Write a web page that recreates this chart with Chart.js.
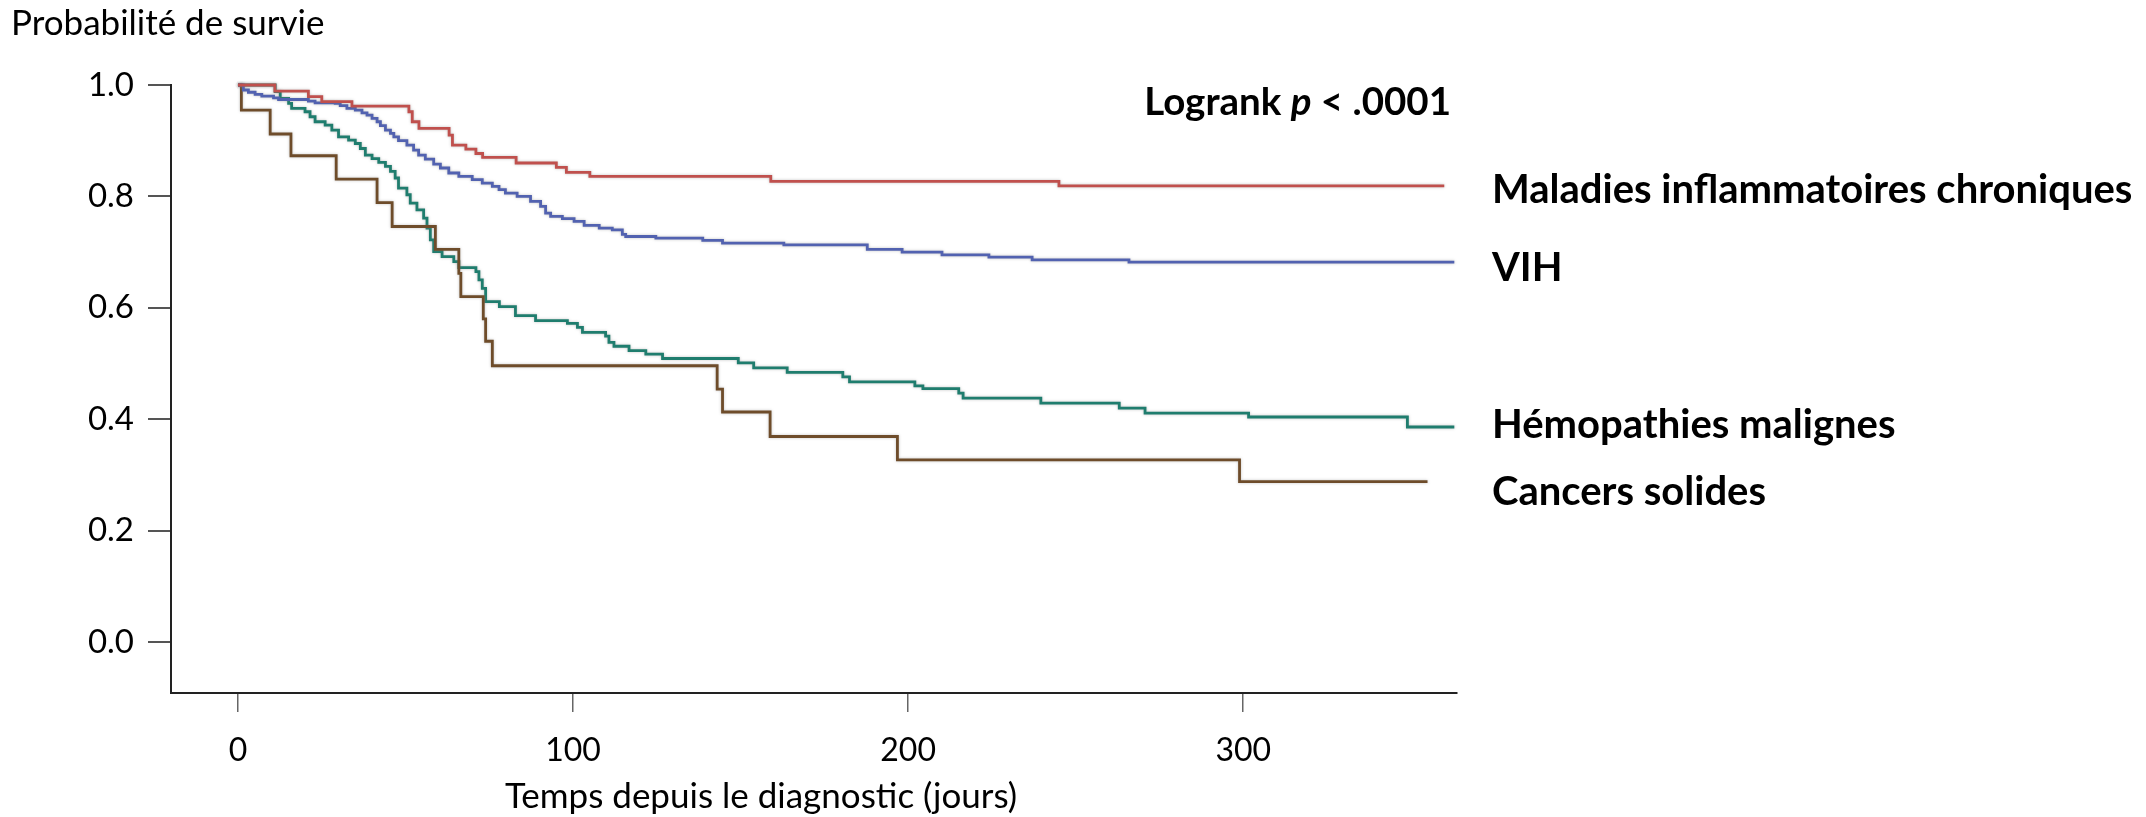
<!DOCTYPE html>
<html lang="fr">
<head>
<meta charset="utf-8">
<title>Probabilité de survie</title>
<script src="https://cdn.jsdelivr.net/npm/chart.js@4.4.1/dist/chart.umd.min.js"></script>
<style>
  html, body { margin: 0; padding: 0; background: #fff; }
  #wrap { width: 2146px; height: 817px; }
</style>
</head>
<body>
<div id="wrap"><canvas id="km" width="2146" height="817"></canvas></div>
<script>
// noms des groupes, dans l'ordre des étiquettes a droite
const groupNames = ['Maladies inflammatoires chroniques', 'VIH', 'Hémopathies malignes', 'Cancers solides'];

// Maladies inflammatoires chroniques
const micDays = [0, 11, 21, 25, 34, 51, 52, 54, 63, 64, 68, 71, 73, 83, 95, 98, 105, 159, 245, 360];
const micSurv = [1.0, 0.989, 0.979, 0.970, 0.962, 0.952, 0.934, 0.922, 0.910, 0.892, 0.885, 0.877, 0.870, 0.860, 0.852, 0.843, 0.836, 0.827, 0.819, 0.819];

// VIH
const vihDays = [0, 1.6, 3.1, 5.1, 7.1, 10.6, 12.1, 21, 23, 29, 30.5, 32.5, 35, 37, 38.5, 40, 41.5, 42.5, 44, 45.5, 46.5, 47.9, 50.4, 52.4, 53.9, 55.9, 58.4, 60.4, 62.9, 65.9, 69.9, 72.9, 75.9, 77.9, 79.8, 83.3, 87.3, 90.3, 91.8, 93.3, 96.8, 100.3, 103.3, 107.8, 111.7, 114.7, 115.7, 124.7, 138.7, 144.6, 162.9, 187.8, 198.2, 210.1, 224.1, 237, 265.9, 363];
const vihSurv = [1.0, 0.991, 0.987, 0.983, 0.980, 0.977, 0.974, 0.971, 0.968, 0.967, 0.963, 0.958, 0.955, 0.950, 0.946, 0.940, 0.934, 0.927, 0.919, 0.913, 0.907, 0.900, 0.892, 0.883, 0.874, 0.867, 0.858, 0.851, 0.842, 0.836, 0.830, 0.824, 0.818, 0.812, 0.806, 0.800, 0.791, 0.782, 0.770, 0.764, 0.760, 0.755, 0.748, 0.743, 0.740, 0.732, 0.728, 0.725, 0.721, 0.716, 0.713, 0.705, 0.700, 0.695, 0.691, 0.686, 0.682, 0.682];

// Hemopathies malignes
const hemDays = [0, 11.1, 12.6, 15.1, 16, 20, 21.5, 23, 26, 28, 30, 33, 35, 36.5, 38, 40, 42, 44, 45.5, 46.9, 47.9, 50.4, 51.4, 53.4, 55.4, 56.4, 57.4, 58.4, 60.9, 64.4, 65.9, 71, 71.9, 72.9, 73.9, 78, 82.8, 88.8, 98.3, 101.3, 102.8, 109.7, 110.7, 112.2, 116.7, 121.7, 126.7, 149.3, 153.9, 163.9, 180.5, 182.5, 202, 204.4, 215.1, 216.4, 239.6, 263, 270.7, 301.6, 349, 363];
const hemSurv = [1.0, 0.988, 0.976, 0.967, 0.958, 0.952, 0.943, 0.934, 0.928, 0.919, 0.907, 0.901, 0.895, 0.886, 0.874, 0.868, 0.861, 0.854, 0.845, 0.833, 0.815, 0.803, 0.788, 0.776, 0.761, 0.743, 0.722, 0.701, 0.692, 0.683, 0.672, 0.665, 0.650, 0.635, 0.611, 0.602, 0.586, 0.577, 0.572, 0.565, 0.556, 0.549, 0.538, 0.531, 0.523, 0.517, 0.509, 0.501, 0.492, 0.484, 0.476, 0.467, 0.460, 0.455, 0.447, 0.438, 0.429, 0.420, 0.411, 0.404, 0.386, 0.386];

// Cancers solides
const csDays = [0, 1, 9.6, 15.8, 29.3, 41.5, 46, 58.9, 65.9, 66.5, 73.2, 73.9, 75.9, 143, 144.6, 158.8, 196.8, 298.9, 355];
const csSurv = [1.0, 0.955, 0.912, 0.873, 0.831, 0.789, 0.746, 0.705, 0.662, 0.620, 0.580, 0.540, 0.496, 0.454, 0.413, 0.369, 0.327, 0.288, 0.288];

const xTicks = [0, 100, 200, 300];
const yTicks = [0.0, 0.2, 0.4, 0.6, 0.8, 1.0];

const FONT = 'Lato, "Open Sans", sans-serif';

function toPoints(days, surv) {
  return days.map((d, i) => ({ x: d, y: surv[i] }));
}

function curve(label, days, surv, color) {
  return {
    label: label,
    data: toPoints(days, surv),
    borderColor: color,
    borderWidth: 2.8,
    stepped: true,
    pointRadius: 0,
    fill: false,
    clip: false
  };
}

// léger halo autour des courbes, comme sur l'original
const haloPlugin = {
  id: 'halo',
  beforeDatasetDraw(chart, args) {
    const ctx = chart.ctx;
    ctx.save();
    ctx.shadowColor = 'rgba(120,120,120,0.45)';
    ctx.shadowBlur = 3;
  },
  afterDatasetDraw(chart) {
    chart.ctx.restore();
  }
};

const textPlugin = {
  id: 'kmText',
  afterDraw(chart) {
    const ctx = chart.ctx;
    ctx.save();
    ctx.fillStyle = '#000';
    ctx.textBaseline = 'alphabetic';

    ctx.font = '35px ' + FONT;
    ctx.textAlign = 'left';
    ctx.fillText('Probabilité de survie', 11, 35);
    ctx.textAlign = 'center';
    ctx.fillText('Temps depuis le diagnostic (jours)', 761, 808);

    // Logrank p < .0001 (p en italique)
    ctx.textAlign = 'left';
    const bold = 'bold 38.5px ' + FONT;
    const boldIt = 'italic bold 38.5px ' + FONT;
    const parts = [['Logrank ', bold], ['p', boldIt], [' < .0001', bold]];
    let total = 0;
    parts.forEach(p => { ctx.font = p[1]; total += ctx.measureText(p[0]).width; });
    let x = 1451 - total;
    parts.forEach(p => {
      ctx.font = p[1];
      ctx.fillText(p[0], x, 115);
      x += ctx.measureText(p[0]).width;
    });

    ctx.font = 'bold 40px ' + FONT;
    const baselines = [203, 281, 438, 505];
    groupNames.forEach((n, i) => ctx.fillText(n, 1492, baselines[i]));
    ctx.restore();
  }
};

new Chart(document.getElementById('km'), {
  type: 'line',
  data: {
    datasets: [
      curve(groupNames[0], micDays, micSurv, '#c0504d'),
      curve(groupNames[1], vihDays, vihSurv, '#5262b0'),
      curve(groupNames[3], csDays, csSurv, '#6e4c2a'),
      curve(groupNames[2], hemDays, hemSurv, '#1f7d6e')
    ]
  },
  options: {
    responsive: false,
    animation: false,
    devicePixelRatio: 1,
    layout: { padding: { top: 85, right: 689, left: 0, bottom: 0 } },
    plugins: {
      legend: { display: false },
      tooltip: { enabled: false }
    },
    scales: {
      x: {
        type: 'linear',
        min: -20,
        max: 363.8,
        afterBuildTicks: axis => { axis.ticks = xTicks.map(v => ({ value: v })); },
        afterFit: axis => { axis.height = 124; },
        grid: { drawOnChartArea: false, tickLength: 19, color: '#666', lineWidth: 1.5 },
        border: { color: '#222', width: 2 },
        ticks: { color: '#000', font: { family: FONT, size: 32 }, padding: 19, maxRotation: 0 }
      },
      y: {
        type: 'linear',
        min: -0.0915,
        max: 1.0,
        afterBuildTicks: axis => { axis.ticks = yTicks.map(v => ({ value: v })); },
        afterFit: axis => { axis.width = 171; },
        grid: { drawOnChartArea: false, tickLength: 23, color: '#555', lineWidth: 2 },
        border: { color: '#222', width: 2 },
        ticks: {
          color: '#000',
          font: { family: FONT, size: 33 },
          padding: 14,
          callback: v => v.toFixed(1)
        }
      }
    }
  },
  plugins: [haloPlugin, textPlugin]
});
</script>
</body>
</html>
